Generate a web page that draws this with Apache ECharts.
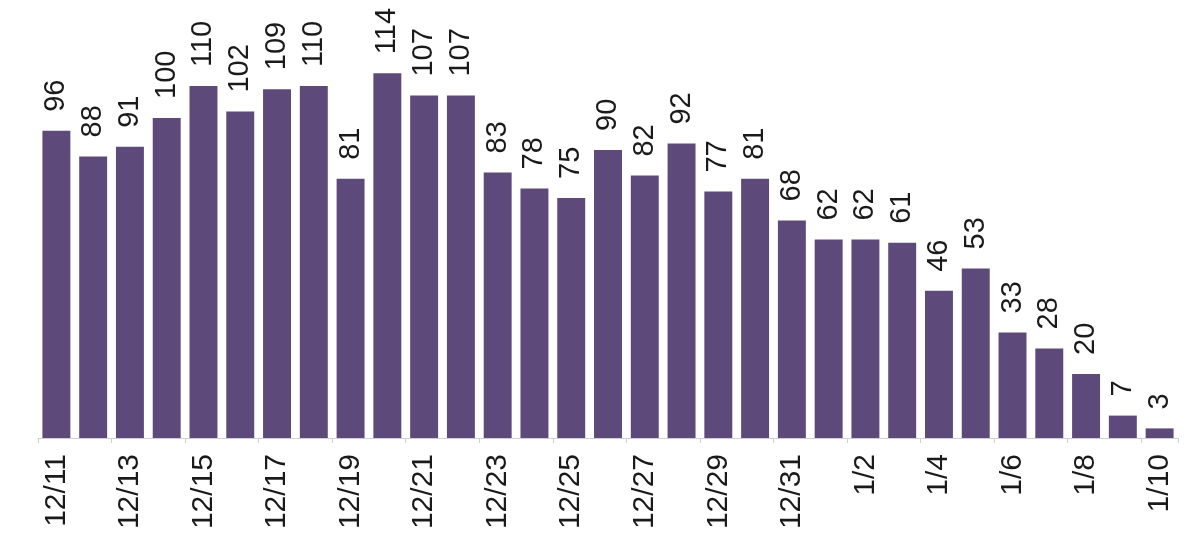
<!DOCTYPE html>
<html>
<head>
<meta charset="utf-8">
<script src="https://cdn.jsdelivr.net/npm/echarts@6/dist/echarts.min.js"></script>
<style>
html,body{margin:0;padding:0;background:#fff;}
#chart{width:1200px;height:556px;}
</style>
</head>
<body>
<div id="chart"></div>
<script>
const categories = ['12/11','12/12','12/13','12/14','12/15','12/16','12/17','12/18','12/19','12/20','12/21','12/22','12/23','12/24','12/25','12/26','12/27','12/28','12/29','12/30','12/31','1/1','1/2','1/3','1/4','1/5','1/6','1/7','1/8','1/9','1/10'];
const values = [96,88,91,100,110,102,109,110,81,114,107,107,83,78,75,90,82,92,77,81,68,62,62,61,46,53,33,28,20,7,3];

const chart = echarts.init(document.getElementById('chart'), null, {renderer:'canvas'});
chart.setOption({
  animation:false,
  backgroundColor:'#ffffff',
  textStyle:{fontFamily:'Liberation Sans, Arial, sans-serif'},
  grid:{left:38, right:22, top:22, bottom:118, containLabel:false},
  xAxis:{
    type:'category',
    data:categories,
    boundaryGap:true,
    axisLine:{show:true, lineStyle:{color:'#d0d0d0', width:1}},
    axisTick:{show:true, interval:1, alignWithLabel:false, length:5, lineStyle:{color:'#d0d0d0'}},
    axisLabel:{interval:1, rotate:90, margin:16, fontSize:30, color:'#1a1a1a', fontFamily:'Liberation Sans, Arial, sans-serif'}
  },
  yAxis:{
    type:'value', min:0, max:130, show:false,
    splitLine:{show:false}
  },
  series:[{
    type:'bar',
    data:values,
    barCategoryGap:'24%',
    itemStyle:{color:'#5d4a7b'},
    label:{
      show:true, position:'top', rotate:90, align:'left', verticalAlign:'middle',
      distance:19, fontSize:29, color:'#1a1a1a', fontFamily:'Liberation Sans, Arial, sans-serif'
    }
  }]
});
</script>
</body>
</html>
